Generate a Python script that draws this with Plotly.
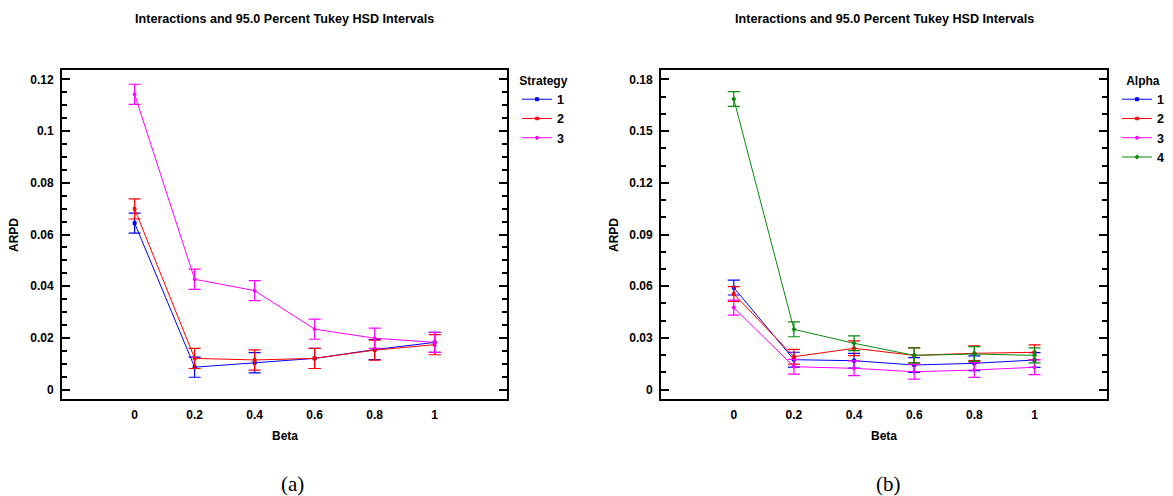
import plotly.graph_objects as go
import numpy as np

# ---------------- data ----------------
beta = [0, 0.2, 0.4, 0.6, 0.8, 1]
beta_labels = ["0", "0.2", "0.4", "0.6", "0.8", "1"]

# Panel (a): interactions Beta x Strategy
strategy_names = ["1", "2", "3"]
strategy_1 = [0.0644, 0.0087, 0.0104, 0.0121, 0.0155, 0.0183]
strategy_2 = [0.0699, 0.0121, 0.0115, 0.0121, 0.0153, 0.0174]
strategy_3 = [0.1142, 0.0427, 0.0383, 0.0234, 0.0199, 0.0183]
hsd_a = [0.0039, 0.0039, 0.0039, 0.0039, 0.0039, 0.0039]

# Panel (b): interactions Beta x Alpha
alpha_names = ["1", "2", "3", "4"]
alpha_1 = [0.0592, 0.0174, 0.0168, 0.0143, 0.0153, 0.0172]
alpha_2 = [0.0555, 0.0191, 0.0240, 0.0199, 0.0211, 0.0217]
alpha_3 = [0.0476, 0.0133, 0.0124, 0.0104, 0.0114, 0.0130]
alpha_4 = [0.1686, 0.0350, 0.0269, 0.0199, 0.0207, 0.0199]
hsd_b = [0.0043, 0.0043, 0.0043, 0.0043, 0.0043, 0.0043]

yticks_a = [0, 0.02, 0.04, 0.06, 0.08, 0.1, 0.12]
yticklabels_a = ["0", "0.02", "0.04", "0.06", "0.08", "0.1", "0.12"]
yticks_b = [0, 0.03, 0.06, 0.09, 0.12, 0.15, 0.18]
yticklabels_b = ["0", "0.03", "0.06", "0.09", "0.12", "0.15", "0.18"]

title_text = "Interactions and 95.0 Percent Tukey HSD Intervals"

# ---------------- style ----------------
W, H = 1173, 496
FONT = "Liberation Sans, Arial, sans-serif"
BLUE, RED, MAG, GREEN = "#0000FF", "#FF0000", "#FF00FF", "#0A8A0A"

def px_x(p):
    return p / W

def px_y(p):
    return 1 - p / H

fig = go.Figure()

def add_series(name, ys, err, color, symbol, xa, ya, legend):
    fig.add_trace(go.Scatter(
        x=beta, y=ys, name=name, mode="lines+markers",
        line=dict(color=color, width=1),
        marker=dict(color=color, symbol=symbol, size=3,
                    line=dict(width=1, color=color)),
        error_y=dict(type="data", array=err, visible=True,
                     color=color, thickness=1.2, width=6),
        xaxis=xa, yaxis=ya, legend=legend,
    ))

add_series(strategy_names[0], strategy_1, hsd_a, BLUE, "square", "x", "y", "legend")
add_series(strategy_names[1], strategy_2, hsd_a, RED, "x", "x", "y", "legend")
add_series(strategy_names[2], strategy_3, hsd_a, MAG, "circle", "x", "y", "legend")

add_series(alpha_names[0], alpha_1, hsd_b, BLUE, "square", "x2", "y2", "legend2")
add_series(alpha_names[1], alpha_2, hsd_b, RED, "x", "x2", "y2", "legend2")
add_series(alpha_names[2], alpha_3, hsd_b, MAG, "circle", "x2", "y2", "legend2")
add_series(alpha_names[3], alpha_4, hsd_b, GREEN, "cross", "x2", "y2", "legend2")

tickfont = dict(family=FONT, size=12, color="black", weight="bold")

def xaxis(domain):
    return dict(domain=domain, range=[-0.242, 1.241],
                tickmode="array", tickvals=beta, ticktext=beta_labels,
                ticks="", showline=True, linewidth=2, linecolor="black",
                mirror=True, showgrid=False, zeroline=False,
                tickfont=tickfont, ticklabelstandoff=4)

def yaxis(rng, tv, tt, minor_vals, anchor):
    return dict(domain=[px_y(399), px_y(70)], range=rng, anchor=anchor,
                tickmode="array", tickvals=tv, ticktext=tt,
                ticks="inside", ticklen=8, tickwidth=2, tickcolor="black",
                minor=dict(tickmode="array", tickvals=minor_vals, ticks="inside",
                           ticklen=5, tickwidth=2, tickcolor="black"),
                showline=True, linewidth=2, linecolor="black",
                mirror="ticks", showgrid=False, zeroline=False,
                tickfont=tickfont, ticklabelstandoff=4)

minor_a = list(np.round(np.arange(0, 0.1236, 0.005), 4))
minor_b = list(np.round(np.arange(0, 0.1854, 0.01), 4))

fig.update_layout(
    width=W, height=H,
    margin=dict(l=0, r=0, t=0, b=0),
    paper_bgcolor="white", plot_bgcolor="white",
    font=dict(family=FONT, size=12, color="black"),
    xaxis=xaxis([px_x(62), px_x(507)]) | dict(anchor="y"),
    yaxis=yaxis([-0.0036, 0.1236], yticks_a, yticklabels_a, minor_a, "x"),
    xaxis2=xaxis([px_x(661), px_x(1107)]) | dict(anchor="y2"),
    yaxis2=yaxis([-0.0054, 0.1854], yticks_b, yticklabels_b, minor_b, "x2"),
    legend=dict(x=px_x(517), y=px_y(69), xanchor="left", yanchor="top",
                title=dict(text="Strategy", side="top center",
                           font=dict(family=FONT, size=12, weight="bold")),
                font=dict(family=FONT, size=12.5, weight="bold"),
                bgcolor="rgba(0,0,0,0)", itemwidth=30, tracegroupgap=0),
    legend2=dict(x=px_x(1117), y=px_y(69), xanchor="left", yanchor="top",
                 title=dict(text="Alpha", side="top center",
                            font=dict(family=FONT, size=12, weight="bold")),
                 font=dict(family=FONT, size=12.5, weight="bold"),
                 bgcolor="rgba(0,0,0,0)", itemwidth=30, tracegroupgap=0),
    showlegend=True,
)

bold_title = dict(family=FONT, size=12.6, color="black", weight="bold")
bold12 = dict(family=FONT, size=12, color="black", weight="bold")
serif = dict(family="Liberation Serif, DejaVu Serif, serif", size=21, color="black")

annots = [
    (284.5, 19, title_text, bold_title, 0),
    (884, 19, title_text, bold_title, 0),
    (284.5, 436, "Beta", bold12, 0),
    (884, 436, "Beta", bold12, 0),
    (14, 235, "ARPD", bold12, -90),
    (614, 235, "ARPD", bold12, -90),
    (292, 484, "(a)", serif, 0),
    (888, 484, "(b)", serif, 0),
]
for ax_, ay_, txt, f, ang in annots:
    fig.add_annotation(x=px_x(ax_), y=px_y(ay_), xref="paper", yref="paper",
                       text=txt, showarrow=False, font=f, textangle=ang,
                       xanchor="center", yanchor="middle")

fig.write_html("out.html", config={"displayModeBar": False},
               post_script="document.body.style.margin='0';document.body.style.overflow='hidden';")
